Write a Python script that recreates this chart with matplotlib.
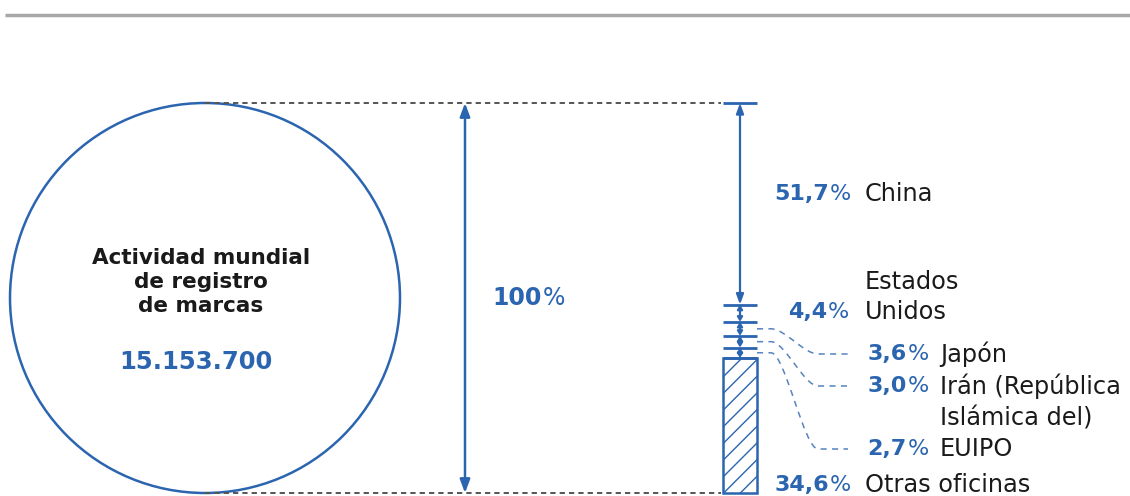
import matplotlib
matplotlib.use("Agg")
import matplotlib.pyplot as plt
from matplotlib.patches import Ellipse, PathPatch
from matplotlib.path import Path
import numpy as np

# ---------------- data ----------------
offices = ["China", "Estados\nUnidos", "Japón", "Irán (República\nIslámica del)", "EUIPO", "Otras oficinas"]
shares = [51.7, 4.4, 3.6, 3.0, 2.7, 34.6]
total_value = "15.153.700"
title_text = "Actividad mundial\nde registro\nde marcas"
total_pct = 100

BLUE = "#2b65b0"
DARK = "#1a1a1a"
GRAY = "#555555"
plt.rcParams['font.family'] = ['DejaVu Sans']
plt.rcParams['hatch.color'] = BLUE
plt.rcParams['hatch.linewidth'] = 1.0

W, H = 1130, 496
fig = plt.figure(figsize=(W / 100, H / 100), dpi=100)
ax = fig.add_axes([0, 0, 1, 1])
ax.axis('off')

# y axis in percent: 0 at top of the stack, 100 at bottom
TOP_PX, BOT_PX = 103, 493
PX_PER_PCT = (BOT_PX - TOP_PX) / 100.0
def py(p):  # pixel row -> axis units (layout helper)
    return (p - TOP_PX) / PX_PER_PCT
ax.set_xlim(0, W)
ax.set_ylim(py(H), py(0))
renderer = fig.canvas.get_renderer()

def pct_label(x_right, y, value, fs, decimals=1):
    """bold blue number + regular-weight % sign, right aligned at x_right"""
    t = ax.text(x_right, y, "%", ha='right', va='center', fontsize=fs, color=BLUE)
    bb = t.get_window_extent(renderer=renderer)
    num = f"{value:.{decimals}f}".replace('.', ',')
    ax.text(x_right - bb.width - 1, y, num, ha='right', va='center', fontsize=fs,
            color=BLUE, fontweight='bold')

# top gray rule
ax.plot([5, W], [py(15), py(15)], color="#a8a8a8", lw=2.5, solid_capstyle='butt')

# circle
cx = 205
circ = Ellipse((cx, 50), width=390, height=100, fill=False, edgecolor=BLUE, lw=1.8)
ax.add_patch(circ)
ax.text(201, py(282), title_text, ha='center', va='center', fontsize=15.5,
        color=DARK, fontweight='bold', linespacing=1.25)
ax.text(196, py(362), total_value, ha='center', va='center', fontsize=17.5,
        color=BLUE, fontweight='bold')

# dashed guide lines
bar_x = 740
bar_w = 34
for yv in (0, 100):
    ax.plot([cx, bar_x - bar_w / 2 - 2], [yv, yv], color=GRAY, lw=1.4, ls=(0, (2.7, 2.1)))

# 100% arrow
ax.annotate('', xy=(465, 0), xytext=(465, 100),
            arrowprops=dict(arrowstyle='<|-|>,head_length=0.8,head_width=0.3', color=BLUE, lw=1.8,
                            shrinkA=0, shrinkB=0))
pct_label(565, py(298), total_pct, 17, decimals=0)

# stacked column
cum = np.concatenate([[0], np.cumsum(shares)])
for b in cum[:-1]:
    ax.plot([bar_x - bar_w / 2, bar_x + bar_w / 2], [b, b], color=BLUE, lw=2, solid_capstyle='butt')
for i in range(len(shares) - 1):
    s, e = cum[i], cum[i + 1]
    if i == 0:
        style = '<|-|>,head_length=0.6,head_width=0.22'
    else:
        style = '<|-|>,head_length=0.25,head_width=0.15'
    ax.annotate('', xy=(bar_x, s), xytext=(bar_x, e),
                arrowprops=dict(arrowstyle=style, color=BLUE, lw=1.6, shrinkA=0, shrinkB=0))
ax.bar([bar_x], [shares[-1]], bottom=cum[-2], width=bar_w, fill=False, hatch='//',
       edgecolor=BLUE, lw=1.8)

# labels
label_rows = [194, 312, 354, 386, 449, 485]
value_right = [851, 849, 929, 929, 929, 851]
name_left = [865, 865, 940, 940, 940, 865]
FS = 17.3
NFS = 16
for i, (name, v) in enumerate(zip(offices, shares)):
    y = py(label_rows[i])
    pct_label(value_right[i], y, v, NFS)
    if "\n" in name:
        first, second = name.split("\n")
        if i == 1:
            ax.text(name_left[i], py(282), first, ha='left', va='center', fontsize=FS, color=DARK)
            ax.text(name_left[i], y, second, ha='left', va='center', fontsize=FS, color=DARK)
        else:
            ax.text(name_left[i], y, first, ha='left', va='center', fontsize=FS, color=DARK)
            ax.text(name_left[i], py(label_rows[i] + 32), second, ha='left', va='center', fontsize=FS, color=DARK)
    else:
        ax.text(name_left[i], y, name, ha='left', va='center', fontsize=FS, color=DARK)

# dashed leader curves for small offices
for i in (2, 3, 4):
    y0 = (cum[i] + cum[i + 1]) / 2
    y1 = py(label_rows[i])
    x0 = bar_x + bar_w / 2
    x1 = 848
    xa = x0 + 14
    xb = x1 - 30
    path = Path([(x0, y0), (xa, y0),
                 (xa + 14, y0), (xb - 14, y1), (xb, y1),
                 (x1, y1)],
                [Path.MOVETO, Path.LINETO, Path.CURVE4, Path.CURVE4, Path.CURVE4, Path.LINETO])
    ax.add_patch(PathPatch(path, fill=False, edgecolor=BLUE, lw=1.1, ls=(0, (4, 3.5)), alpha=0.8))

fig.savefig("out.png", dpi=100)
